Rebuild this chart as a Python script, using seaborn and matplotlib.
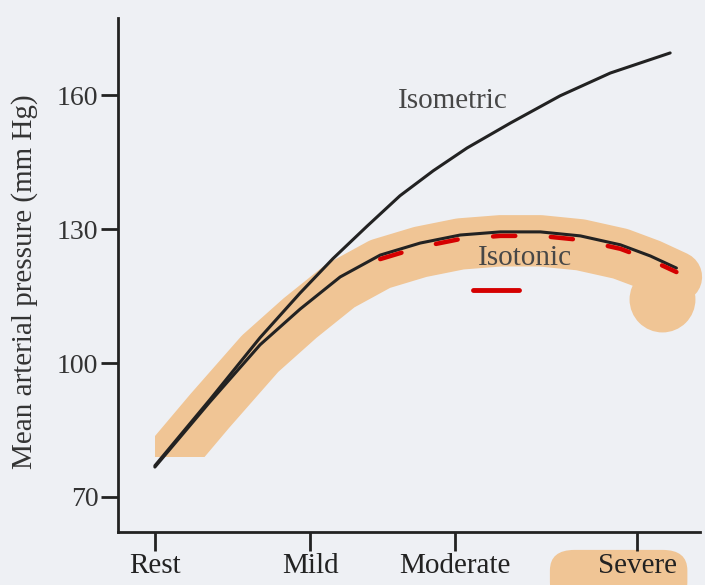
import numpy as np
import pandas as pd
import seaborn as sns
import matplotlib.pyplot as plt
from matplotlib.patches import FancyBboxPatch, Rectangle

# exercise intensity axis (Rest = 0 ... Severe = 100)
level_ticks = [0, 32.2, 62.2, 100]
level_labels = ["Rest", "Mild", "Moderate", "Severe"]
pressure_ticks = [70, 100, 130, 160]

# curves
isometric_x = [0, 11.4, 21.8, 30.1, 36.9, 44.0, 50.8, 57.7, 64.7, 73.7, 84.0, 94.4, 106.8]
isometric_y = [77.0, 91.8, 105.7, 115.7, 123.4, 130.7, 137.5, 143.1, 148.2, 153.8, 159.9, 165.0, 169.5]

isotonic_x = [0, 11.4, 21.8, 30.1, 38.4, 46.7, 55.0, 63.3, 71.6, 79.9, 88.2, 96.5, 102.7, 108.1]
isotonic_y = [76.7, 91.3, 104.1, 112.1, 119.3, 124.2, 126.9, 128.7, 129.4, 129.4, 128.5, 126.5, 124.0, 121.3]

# hand-drawn red underline below the "Isotonic" label
underline_x = [66, 75.5]
underline_y = [116.4, 116.4]

bg = "#EEF0F4"
ink = "#222222"
highlight = "#F0C595"
red = "#D50000"

sns.set_style("ticks")
plt.rcParams["font.family"] = ["Liberation Serif", "DejaVu Serif"]

fig = plt.figure(figsize=(7.05, 5.85), dpi=100)
fig.patch.set_facecolor(bg)
ax = fig.add_axes([0.167, 0.091, 0.826, 0.878])
ax.set_facecolor(bg)

iso_m = pd.DataFrame({"level": isometric_x, "pressure": isometric_y})
iso_t = pd.DataFrame({"level": isotonic_x, "pressure": isotonic_y})

# highlighter marks
band, = ax.plot(iso_t["level"], iso_t["pressure"] - 2.0, color=highlight, lw=37,
                solid_capstyle="round", solid_joinstyle="round", zorder=1)
band.set_clip_path(Rectangle((0, 79), 500, 500, transform=ax.transData))
ax.scatter([isotonic_x[-1] - 3], [isotonic_y[-1] - 7], s=2250, color=highlight,
           linewidths=0, zorder=1)
ax.plot(iso_t["level"][5:], iso_t["pressure"][5:] - 0.9, color=red, lw=3.2,
        ls=(0, (5, 8)), dash_capstyle="round", zorder=4)
ax.plot(underline_x, underline_y, color=red, lw=3.5, solid_capstyle="round", zorder=4)

sns.lineplot(data=iso_m, x="level", y="pressure", color=ink, lw=2.2,
             sort=False, estimator=None, ax=ax, zorder=3)
sns.lineplot(data=iso_t, x="level", y="pressure", color=ink, lw=2.2,
             sort=False, estimator=None, ax=ax, zorder=3)

ax.text(61.8, 158.7, "Isometric", ha="center", va="center", fontsize=21, color="#474747")
ax.text(76.8, 123.6, "Isotonic", ha="center", va="center", fontsize=21, color="#474747", zorder=5)

ax.set_xlim(-7.7, 113)
ax.set_ylim(62.2, 177.3)
ax.set_xticks(level_ticks)
ax.set_xticklabels(level_labels)
ax.set_yticks(pressure_ticks)

sns.despine(ax=ax)
for side in ["left", "bottom"]:
    ax.spines[side].set_linewidth(2)
    ax.spines[side].set_color(ink)
ax.tick_params(axis="x", length=14, width=2, color=ink, labelsize=21, pad=1, labelcolor=ink)
ax.tick_params(axis="y", length=12, width=2, color=ink, labelsize=20, pad=2, labelcolor="#333333")

ax.set_xlabel("")
ax.set_ylabel("Mean arterial pressure (mm Hg)", fontsize=21, color="#333333")
ax.yaxis.set_label_coords(-0.137, 0.486)

# highlighter blob behind "Severe"
blob = FancyBboxPatch((0.78, -0.03), 0.195, 0.09,
                      boxstyle="round,pad=0,rounding_size=0.035",
                      transform=fig.transFigure, facecolor=highlight,
                      edgecolor="none", zorder=-1)
fig.patches.append(blob)

fig.savefig("out.png", dpi=100, facecolor=bg)
